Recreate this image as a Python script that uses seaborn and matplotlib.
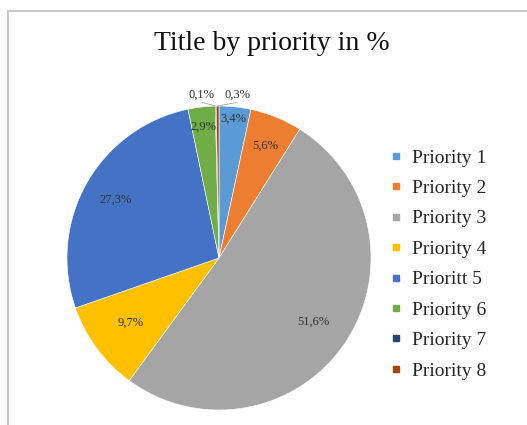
import matplotlib
matplotlib.use("Agg")
import matplotlib.pyplot as plt
import seaborn as sns
import numpy as np
from matplotlib.lines import Line2D
from matplotlib.patches import Rectangle

categories = ["Priority 1", "Priority 2", "Priority 3", "Priority 4",
              "Prioritt 5", "Priority 6", "Priority 7", "Priority 8"]
values = [3.4, 5.6, 51.6, 9.7, 27.3, 2.9, 0.1, 0.3]
value_labels = ["3,4%", "5,6%", "51,6%", "9,7%", "27,3%", "2,9%", "0,1%", "0,3%"]
colors_hex = ["#5B9BD5", "#ED7D31", "#A5A5A5", "#FFC000",
              "#4472C4", "#70AD47", "#264478", "#9E480E"]

sns.set_theme(style="white")
plt.rcParams['font.family'] = ['Liberation Serif', 'DejaVu Serif']
palette = sns.color_palette(colors_hex)

W, H = 527, 425
fig = plt.figure(figsize=(W / 100, H / 100), dpi=100)
fig.patch.set_facecolor("white")

# frame
fig.patches.append(Rectangle((8 / W, -0.1), 1.2, 1.1 - 11 / H, transform=fig.transFigure,
                             fill=False, edgecolor="#C8C8C8", linewidth=1.5))

cx, cy, r = 219, 258, 152
ax = fig.add_axes([(cx - r) / W, (H - cy - r) / H, 2 * r / W, 2 * r / H])
wedges, _ = ax.pie(values, colors=palette, startangle=90, counterclock=False,
                   wedgeprops=dict(edgecolor="white", linewidth=0.4))
ax.set_xlim(-1, 1)
ax.set_ylim(-1, 1)

# label radial distances / angle shifts (styling)
label_dist = [0.92, 0.80, 0.75, 0.72, 0.78, 0.87, 1.08, 1.08]
label_shift = [0, 0, 0, 0, 0, 0, 5, -7]
for w, lab, d, s in zip(wedges, value_labels, label_dist, label_shift):
    ang = np.deg2rad((w.theta1 + w.theta2) / 2 + s)
    ax.text(d * np.cos(ang), d * np.sin(ang), lab, ha="center", va="center",
            fontsize=9, color="#333333", clip_on=False)
    if s != 0:
        am = np.deg2rad((w.theta1 + w.theta2) / 2)
        ax.plot([np.cos(am), 1.03 * np.cos(ang)], [np.sin(am), 1.03 * np.sin(ang)],
                color="#A0A0A0", linewidth=0.6, clip_on=False)

fig.text(272 / W, 1 - 43 / H, "Title by priority in %", ha="center", va="center",
         fontsize=20, color="#111111")

handles = [Line2D([0], [0], marker="s", linestyle="none", markersize=4.5,
                  markerfacecolor=c, markeredgecolor=c) for c in palette]
fig.legend(handles, categories, loc="upper left", bbox_to_anchor=(390 / W, 1 - 149 / H),
           frameon=False, fontsize=14, handlelength=0.6, handletextpad=0.55,
           labelspacing=0.66, borderpad=0, borderaxespad=0)

fig.savefig("out.png", dpi=100)
